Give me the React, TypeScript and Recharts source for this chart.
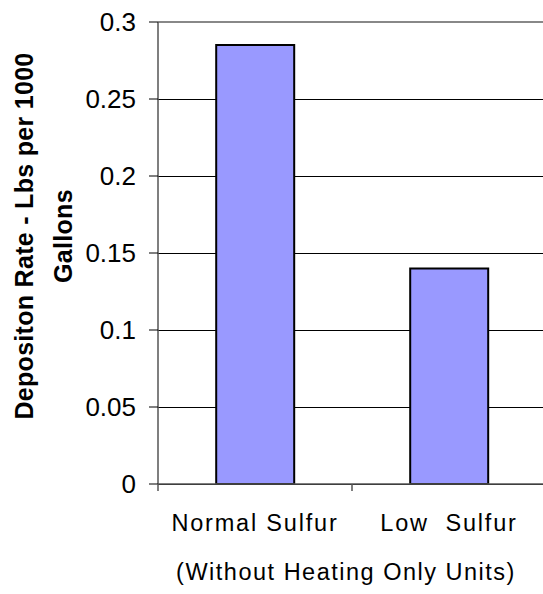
import React from 'react';
import { BarChart, Bar, XAxis, YAxis, CartesianGrid, ReferenceLine } from 'recharts';

const categories = ['Normal Sulfur', 'Low  Sulfur'];
const depositionRate = [0.285, 0.14];
const yTicks = [0, 0.05, 0.1, 0.15, 0.2, 0.25, 0.3];
const yLabelLine1 = 'Depositon Rate - Lbs per 1000';
const yLabelLine2 = 'Gallons';
const xLabel = '(Without Heating Only Units)';

const data = categories.map((c, i) => ({ name: c, value: depositionRate[i] }));

const FONT = '"Liberation Sans", Arial, sans-serif';

const XTick = (props: any) => {
  const { x, y, payload, index, visibleTicksCount, width } = props;
  const half = width && visibleTicksCount ? width / (2 * visibleTicksCount) : 97;
  return (
    <g>
      <line x1={x - half} x2={x - half} y1={y} y2={y + 7} stroke="#555" strokeWidth={1.5} />
      {index === visibleTicksCount - 1 && (
        <line x1={x + half} x2={x + half} y1={y} y2={y + 7} stroke="#555" strokeWidth={1.5} />
      )}
      <text
        x={x}
        y={y + 47}
        textAnchor="middle"
        fontSize={23.5}
        letterSpacing={1.8}
        fill="#000"
        fontFamily={FONT}
        style={{ whiteSpace: 'pre' }}
      >
        {payload.value}
      </text>
    </g>
  );
};

const YLabel = () => (
  <g>
    <text
      transform="translate(33,236) rotate(-90)"
      textAnchor="middle"
      fontSize={25}
      fontWeight="bold"
      letterSpacing={0.3}
      fill="#000"
      fontFamily={FONT}
    >
      {yLabelLine1}
    </text>
    <text
      transform="translate(72,236) rotate(-90)"
      textAnchor="middle"
      fontSize={25}
      fontWeight="bold"
      letterSpacing={0.3}
      fill="#000"
      fontFamily={FONT}
    >
      {yLabelLine2}
    </text>
  </g>
);

const XLabel = () => (
  <text
    x={346}
    y={580}
    textAnchor="middle"
    fontSize={23.5}
    letterSpacing={1.5}
    fill="#000"
    fontFamily={FONT}
  >
    {xLabel}
  </text>
);

export default function App() {
  return (
    <div style={{ position: 'absolute', left: 0, top: 0, width: 543, height: 594, overflow: 'hidden', background: '#fff' }}>
      <BarChart
        width={560}
        height={594}
        data={data}
        margin={{ top: 22, right: 14, bottom: 0, left: 0 }}
        barCategoryGap="30%"
      >
        <CartesianGrid vertical={false} stroke="#000" strokeWidth={1} shapeRendering="crispEdges" />
        <XAxis
          dataKey="name"
          height={110}
          tickLine={false}
          tickSize={0}
          tickMargin={0}
          tick={<XTick />}
          stroke="#555"
          strokeWidth={1.5}
          interval={0}
          label={{ content: () => <XLabel /> }}
        />
        <YAxis
          width={158}
          domain={[0, 0.3]}
          ticks={yTicks}
          tickSize={9}
          tickMargin={13}
          stroke="#555"
          strokeWidth={1.5}
          tick={{ fill: '#000', fontSize: 26, fontFamily: FONT }}
          tickLine={{ stroke: '#000', strokeWidth: 1 }}
          label={{ content: () => <YLabel /> }}
        />
        <ReferenceLine y={0.3} stroke="#888" strokeWidth={2} />
        <Bar dataKey="value" fill="#9999FF" stroke="#000" strokeWidth={2} isAnimationActive={false} />
      </BarChart>
    </div>
  );
}
